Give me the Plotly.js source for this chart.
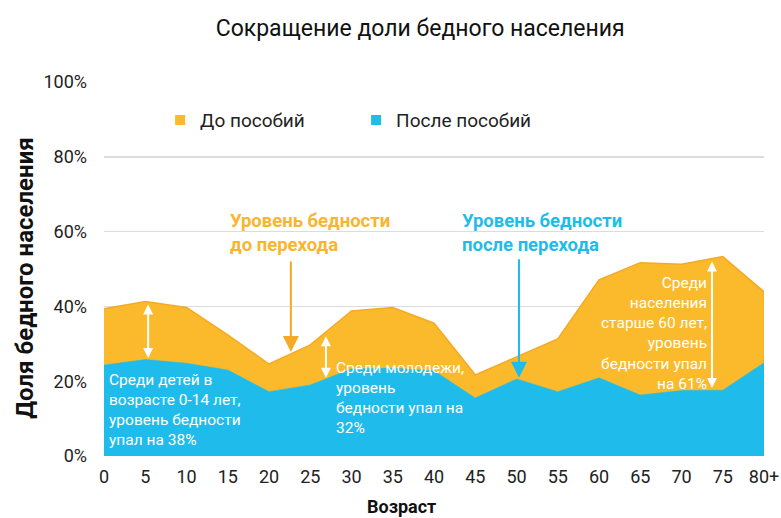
<!DOCTYPE html>
<html>
<head>
<meta charset="utf-8">
<script src="https://cdn.plot.ly/plotly-3.0.1.min.js"></script>
<style>
  html, body { margin: 0; padding: 0; background: #fff; }
  #chart { width: 781px; height: 518px; }
</style>
</head>
<body>
<div id="chart"></div>
<script>
// ---- data ----
const ages = ['0','5','10','15','20','25','30','35','40','45','50','55','60','65','70','75','80+'];
const beforeBenefits = [39.4, 41.3, 39.7, 32.4, 24.6, 29.7, 38.8, 39.7, 35.5, 21.7, 26.5, 31.3, 47.1, 51.7, 51.3, 53.3, 43.9];
const afterBenefits  = [24.3, 25.8, 24.8, 23.0, 17.2, 19.0, 23.3, 23.5, 22.8, 15.5, 20.6, 17.2, 20.9, 16.3, 17.5, 17.6, 24.9];
const yTicks = [0, 20, 40, 60, 80, 100];
const seriesNames = ['До пособий', 'После пособий'];

const ORANGE = '#FBBA2B';
const ORANGE_LINE = '#F6A925';
const ORANGE_TEXT = '#F9B52C';
const BLUE = '#1FBCEB';
const FONT = 'Roboto, "Noto Sans", sans-serif';

const n = ages.length;
const traces = [
  {
    type: 'scatter', mode: 'lines',
    x: ages.concat([ages[n - 1], ages[0]]),
    y: beforeBenefits.concat([0, 0]),
    fill: 'toself', fillcolor: ORANGE,
    line: { color: ORANGE_LINE, width: 1.5 },
    showlegend: false, hoverinfo: 'skip'
  },
  {
    type: 'scatter', mode: 'lines',
    x: ages, y: afterBenefits,
    fill: 'tozeroy', fillcolor: BLUE,
    line: { color: BLUE, width: 0.5 },
    showlegend: false, hoverinfo: 'skip'
  },
  {
    type: 'scatter', mode: 'markers', name: seriesNames[0],
    x: [null], y: [null],
    marker: { symbol: 'square', size: 10, color: ORANGE }
  },
  {
    type: 'scatter', mode: 'markers', name: seriesNames[1],
    x: [null], y: [null],
    marker: { symbol: 'square', size: 10, color: BLUE }
  }
];

function whiteText(text, x, y, xanchor, align) {
  return {
    text: text, x: x, y: y, xref: 'x', yref: 'y',
    xanchor: xanchor, yanchor: 'middle', align: align, showarrow: false,
    font: { family: FONT, size: 15.5, color: '#ffffff' }
  };
}
function doubleArrow(x, yLow, yHigh) {
  return {
    x: x, y: yLow, ax: x, ay: yHigh, xref: 'x', yref: 'y', axref: 'x', ayref: 'y',
    text: '', showarrow: true, arrowside: 'end+start', arrowhead: 2,
    arrowsize: 1, arrowwidth: 2, arrowcolor: '#ffffff', standoff: 0, startstandoff: 0
  };
}

const annotations = [
  // axis titles
  { text: '<b>Возраст</b>', xref: 'paper', yref: 'paper', x: 0.4515, y: -0.134,
    xanchor: 'center', yanchor: 'middle', showarrow: false,
    font: { family: FONT, size: 18, color: '#111' } },
  { text: '<b>Доля бедного населения</b>', xref: 'paper', yref: 'paper', x: -0.12, y: 0.476,
    xanchor: 'center', yanchor: 'middle', textangle: -90, showarrow: false,
    font: { family: FONT, size: 24, color: '#111' } },
  // coloured callouts
  { text: '<b>Уровень бедности<br>до перехода</b>', x: 3.0, y: 59.6, xref: 'x', yref: 'y',
    xanchor: 'left', yanchor: 'middle', align: 'left', showarrow: false,
    font: { family: FONT, size: 18.5, color: ORANGE_TEXT } },
  { text: '', x: 4.53, y: 27.8, xref: 'x', yref: 'y', ax: 0, ay: -92,
    showarrow: true, arrowhead: 2, arrowsize: 1.6, arrowwidth: 2, arrowcolor: ORANGE_LINE, standoff: 0 },
  { text: '<b>Уровень бедности<br>после перехода</b>', x: 8.64, y: 59.6, xref: 'x', yref: 'y',
    xanchor: 'left', yanchor: 'middle', align: 'left', showarrow: false,
    font: { family: FONT, size: 18.5, color: BLUE } },
  { text: '', x: 10.06, y: 20.9, xref: 'x', yref: 'y', ax: 0, ay: -120,
    showarrow: true, arrowhead: 2, arrowsize: 1.6, arrowwidth: 2, arrowcolor: BLUE, standoff: 0 },
  // white gap arrows
  doubleArrow(1.07, 26.2, 40.9),
  doubleArrow(5.38, 20.9, 32.4),
  doubleArrow(14.74, 18.2, 52.4),
  // white texts
  whiteText('Среди детей в<br>возрасте 0-14 лет,<br>уровень бедности<br>упал на 38%', 0.07, 12.3, 'left', 'left'),
  whiteText('Среди молодежи,<br>уровень<br>бедности упал на<br>32%', 5.58, 15.5, 'left', 'left'),
  whiteText('Среди<br>населения<br>старше 60 лет,<br>уровень<br>бедности упал<br>на 61%', 14.67, 32.8, 'right', 'right')
];

const layout = {
  width: 781, height: 518,
  margin: { l: 104, r: 17, t: 82, b: 62 },
  paper_bgcolor: '#ffffff', plot_bgcolor: '#ffffff',
  font: { family: FONT, size: 18, color: '#222' },
  title: {
    text: 'Сокращение доли бедного населения',
    x: 0.538, xref: 'container', xanchor: 'center',
    y: 0.946, yref: 'container', yanchor: 'middle',
    font: { family: FONT, size: 23, color: '#111' }
  },
  xaxis: {
    type: 'category', range: [0, n - 1],
    showgrid: false, zeroline: false, showline: false, ticks: '',
    tickfont: { family: FONT, size: 18, color: '#222' },
    ticklabelstandoff: 8, fixedrange: true
  },
  yaxis: {
    range: [0, 100], tickvals: yTicks, ticktext: yTicks.map(v => v + '%'),
    showgrid: true, gridcolor: '#dcdcdc', gridwidth: 1.5,
    zeroline: false, showline: false, ticks: '',
    tickfont: { family: FONT, size: 18, color: '#222' },
    ticklabelstandoff: 16, fixedrange: true
  },
  showlegend: true,
  legend: {
    orientation: 'h', x: 0.085, xanchor: 'left', y: 0.898, yanchor: 'middle',
    entrywidth: 151, bgcolor: 'rgba(0,0,0,0)',
    font: { family: FONT, size: 19, color: '#222' }
  },
  annotations: annotations
};

Plotly.newPlot('chart', traces, layout, { displayModeBar: false, staticPlot: true });
</script>
</body>
</html>
